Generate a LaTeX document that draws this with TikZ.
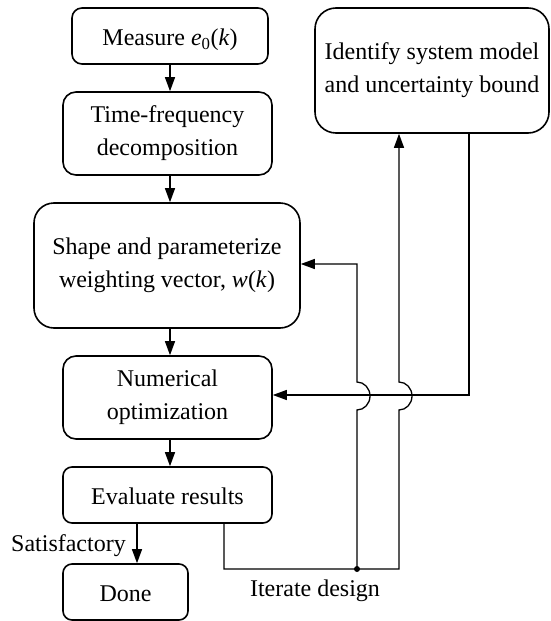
\documentclass[tikz,border=0pt]{standalone}
\usepackage{fontspec}
\setmainfont{Liberation Serif}
\usetikzlibrary{arrows.meta}
\newcommand{\boxstrut}{\rule[-5.5pt]{0pt}{30pt}}
\begin{document}
\begin{tikzpicture}[x=1pt,y=-1pt,
  box/.style={draw, line width=1.6pt, rounded corners=#1, inner sep=0pt, align=center,
    font=\fontsize{24}{33}\selectfont,
    execute at begin node=\boxstrut, execute at end node=\boxstrut},
  box/.default=10pt,
  conn/.style={line width=1.3pt},
  arr/.style={conn, -{Triangle[length=14pt,width=10pt]}},
  lbl/.style={inner sep=0pt, font=\fontsize{24}{33}\selectfont}]
\useasboundingbox (0,0) rectangle (550,621);

\node[box=10pt, minimum width=196pt, minimum height=56pt] (m) at (170,36)
  {Measure \textit{e}\textsubscript{0}(\textit{k})};
\node[box=13pt, minimum width=209pt, minimum height=83pt] (t) at (167.5,133.5)
  {Time-frequency\\decomposition};
\node[box=20pt, minimum width=266pt, minimum height=125pt] (s) at (167,265.5)
  {Shape and parameterize\\weighting vector, \textit{w}(\textit{k})};
\node[box=13pt, minimum width=209pt, minimum height=83pt] (n) at (167.5,397.5)
  {Numerical\\optimization};
\node[box=9pt, minimum width=209pt, minimum height=56pt] (ev) at (167.5,495)
  {Evaluate results};
\node[box=9pt, minimum width=125pt, minimum height=56pt] (d) at (125.5,592)
  {Done};
\node[box=21pt, minimum width=234pt, minimum height=125pt] (id) at (432,70.5)
  {Identify system model\\and uncertainty bound};

\node[lbl, anchor=base east] (sat) at (126,551.5) {Satisfactory};
\node[lbl, anchor=base] (it) at (315,596.5) {Iterate design};

\coordinate (col) at (170,0);
\coordinate (j) at (357,569);

% main column
\draw[arr] (m.south) -- (col |- t.north);
\draw[arr] (col |- t.south) -- (col |- s.north);
\draw[arr] (col |- s.south) -- (col |- n.north);
\draw[arr] (col |- n.south) -- (col |- ev.north);
\draw[arr] (137,0 |- ev.south) -- (137,0 |- d.north);

% identify -> numerical
\draw[arr] (469,0 |- id.south) -- (469,395) -- (n.east |- 0,395);

% iterate loop
\draw[arr] (224,0 |- ev.south) -- (224,569) -- (399,569) -- (399,410)
  arc[start angle=90, end angle=-90, x radius=13, y radius=14]
  -- (399,0 |- id.south);
\draw[arr] (j) -- (357,410)
  arc[start angle=90, end angle=-90, x radius=13, y radius=14]
  -- (357,264) -- (s.east |- 0,264);
\fill (j) circle[radius=3];
\end{tikzpicture}
\end{document}
